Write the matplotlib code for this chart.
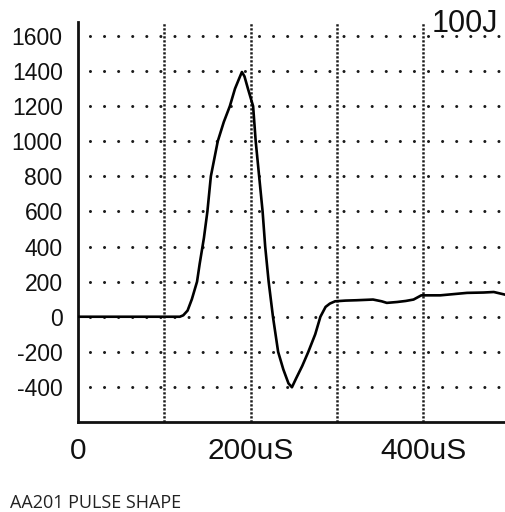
#!/usr/bin/env python3
"""AA201 pulse shape: defibrillator output current vs time at 100 J."""

import matplotlib
matplotlib.use("Agg")
import matplotlib.pyplot as plt

# pulse trace
time_us = [0, 60, 118, 122, 127, 132, 138, 141, 146, 150, 154, 158, 162,
           169, 176, 182, 187, 190, 193, 197, 203, 206, 210, 214, 217,
           221, 226, 232, 238, 244, 248, 253, 260, 267, 275, 281, 287,
           292, 298, 310, 323, 342, 352, 358, 370, 380, 389, 398, 420,
           451, 470, 482, 495]
current = [0, 0, 0, 8, 35, 100, 200, 300, 450, 600, 800, 900, 1000,
           1110, 1200, 1300, 1360, 1395, 1370, 1300, 1200, 1000, 800, 600, 400,
           200, 0, -200, -300, -380, -402, -350, -280, -200, -100, 0, 56,
           75, 88, 92, 94, 98, 88, 79, 84, 90, 98, 122, 122,
           136, 138, 141, 126]

y_ticks = [-400, -200, 0, 200, 400, 600, 800, 1000, 1200, 1400, 1600]
x_label_ticks = [0, 200, 400]
x_labels = ["0", "200uS", "400uS"]
x_grid_ticks = [100, 200, 300, 400]

plt.rcParams["axes.unicode_minus"] = False
plt.rcParams["font.family"] = ["Liberation Sans", "DejaVu Sans"]

fig = plt.figure(figsize=(5.05, 5.12), dpi=100)
ax = fig.add_axes([78 / 505, 90 / 512, 427 / 505, 400 / 512])

ax.plot(time_us, current, color="black", linewidth=1.9, zorder=3)

ax.set_xlim(0, 495)
ax.set_ylim(-600, 1680)

ax.set_yticks(y_ticks)
ax.set_yticklabels([str(v) for v in y_ticks], fontsize=16.5)
ax.set_xticks(x_label_ticks)
ax.set_xticklabels(x_labels, fontsize=21.5)
ax.tick_params(axis="both", which="both", length=0, colors="#111111")
ax.tick_params(axis="y", pad=11)
ax.tick_params(axis="x", pad=11)

# sparse dotted horizontal grid
ax.grid(True, axis="y", which="major", color="#1a1a1a", linewidth=2.2,
        linestyle=(0.7, (0.01, 4.6)), dash_capstyle="round")
# dense dotted vertical grid
for xg in x_grid_ticks:
    ax.axvline(xg, color="#1a1a1a", linewidth=1.8,
               linestyle=(0, (0.9, 0.7)), zorder=1)

for side in ("top", "right"):
    ax.spines[side].set_visible(False)
for side in ("left", "bottom"):
    ax.spines[side].set_linewidth(2.0)
    ax.spines[side].set_color("#111111")

fig.text(498 / 505, 1 - 32 / 512, "100J", ha="right", va="baseline",
         fontsize=22, color="#111111")
fig.text(10 / 505, 4 / 512, "AA201 PULSE SHAPE", ha="left", va="baseline",
         fontsize=13, family=["Open Sans", "DejaVu Sans"], color="#222222")

fig.savefig("out.png", dpi=100)
plt.close(fig)
